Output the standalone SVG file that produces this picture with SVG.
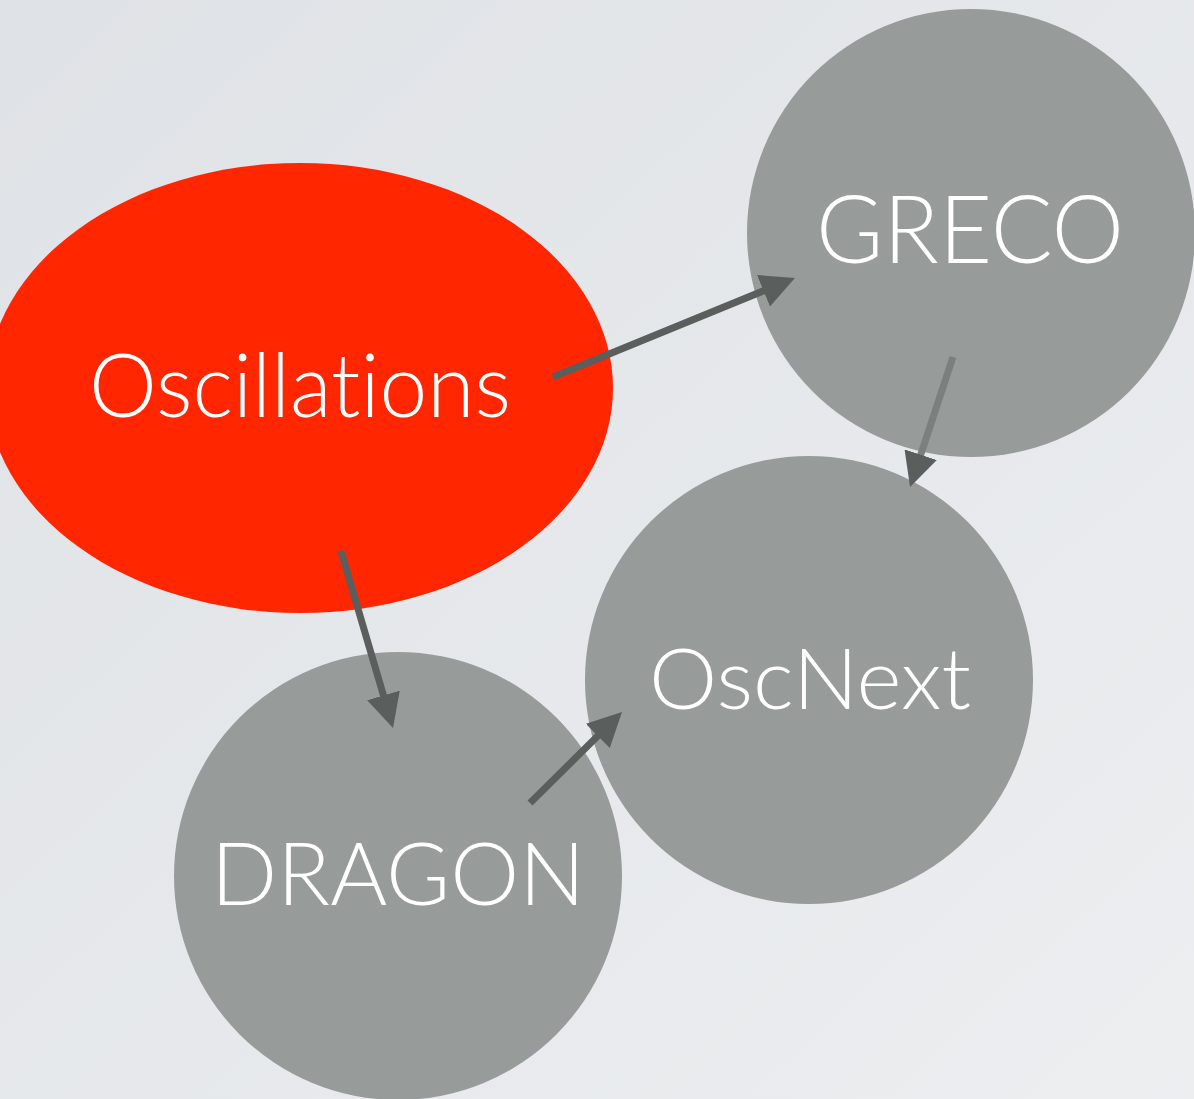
<svg xmlns="http://www.w3.org/2000/svg" width="1194" height="1099" viewBox="0 0 1194 1099">
  <style>
    .node { fill: #979c9b; }
    .lbl { fill: #ffffff; font-family: "Lato", "Open Sans", "Liberation Sans", sans-serif; font-weight: 300; text-anchor: middle; font-variant-ligatures: none; font-feature-settings: "liga" 0, "clig" 0; }
    .edge { stroke: #5a5e5c; stroke-width: 7; fill: none; }
  </style>
  <defs>
    <linearGradient id="bg" x1="0" y1="0" x2="1" y2="1">
      <stop offset="0" stop-color="#dfe2e6"/>
      <stop offset="1" stop-color="#eceef0"/>
    </linearGradient>
    <marker id="head" markerUnits="userSpaceOnUse" markerWidth="34" markerHeight="34" viewBox="0 0 34 34" refX="8" refY="17" orient="auto">
      <path d="M0,0 L34,17 L0,34 Z" fill="#5a5e5c"/>
    </marker>
  </defs>
  <rect width="1194" height="1099" fill="url(#bg)"/>

  <g id="node-oscillations">
    <ellipse cx="300" cy="388" rx="313" ry="225" fill="#ff2600"/>
    <text class="lbl" x="300" y="417" font-size="89" textLength="422" lengthAdjust="spacingAndGlyphs">Oscillations</text>
  </g>
  <g id="node-greco">
    <circle class="node" cx="971" cy="233" r="224"/>
    <text class="lbl" x="970" y="263" font-size="94" textLength="308" lengthAdjust="spacingAndGlyphs">GRECO</text>
  </g>
  <g id="node-oscnext">
    <circle class="node" cx="809" cy="680" r="224"/>
    <text class="lbl" x="810" y="709" font-size="84" textLength="322" lengthAdjust="spacingAndGlyphs">OscNext</text>
  </g>
  <g id="node-dragon">
    <circle class="node" cx="398" cy="876" r="224"/>
    <text class="lbl" x="398" y="905" font-size="86" textLength="374" lengthAdjust="spacingAndGlyphs">DRAGON</text>
  </g>

  <g id="connectors">
    <line class="edge" x1="553" y1="377" x2="770.9" y2="287.8" marker-end="url(#head)"/>
    <line class="edge" x1="953" y1="357" x2="918.2" y2="462.3" style="stroke:#7b807e" marker-end="url(#head)"/>
    <line class="edge" x1="341" y1="551" x2="385.7" y2="703.1" marker-end="url(#head)"/>
    <line class="edge" x1="530" y1="803" x2="603.5" y2="730.3" marker-end="url(#head)"/>
  </g>
</svg>
